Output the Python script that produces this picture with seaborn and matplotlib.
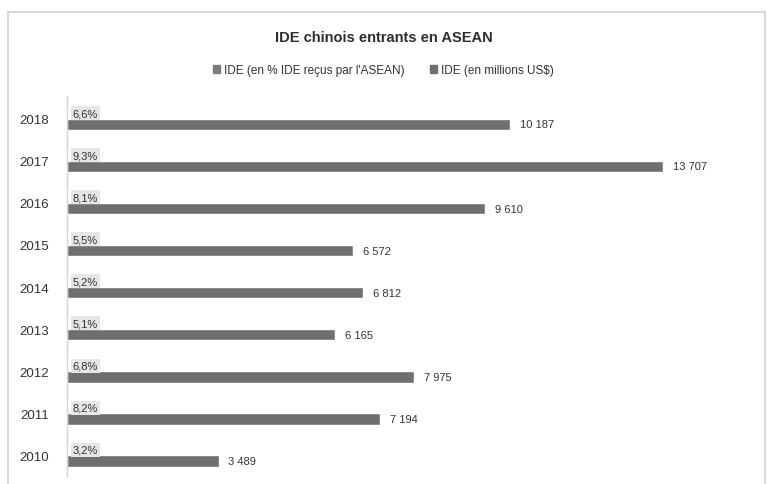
import matplotlib
matplotlib.use("Agg")
import matplotlib.pyplot as plt
import matplotlib.patches as mpatches
import seaborn as sns
import pandas as pd

years = ["2018", "2017", "2016", "2015", "2014", "2013", "2012", "2011", "2010"]
ide_pct = [6.6, 9.3, 8.1, 5.5, 5.2, 5.1, 6.8, 8.2, 3.2]
ide_musd = [10187, 13707, 9610, 6572, 6812, 6165, 7975, 7194, 3489]
series_names = ["IDE (en % IDE reçus par l'ASEAN)", "IDE (en millions US$)"]
title = "IDE chinois entrants en ASEAN"

df = pd.DataFrame({
    "year": years * 2,
    "value": ide_pct + ide_musd,
    "series": [series_names[0]] * len(years) + [series_names[1]] * len(years),
})

sns.set_theme(style="white")
plt.rcParams["font.family"] = ["Liberation Sans", "DejaVu Sans"]

fig = plt.figure(figsize=(7.67, 4.85), dpi=100)
ax = fig.add_axes([67 / 767, 1 - 477 / 485, 696 / 767, 380 / 485])

sns.barplot(data=df, y="year", x="value", hue="series", order=years,
            hue_order=series_names, orient="h", width=0.54,
            palette=["#7c7c7c", "#6f6f6f"], ax=ax, legend=False,
            saturation=1)

ax.set_xlim(0, 16000)
ax.set_ylim(8.49, -0.54)
ax.set_xlabel("")
ax.set_ylabel("")
ax.set_xticks([])
for s in ["top", "right", "bottom"]:
    ax.spines[s].set_visible(False)
ax.spines["left"].set_color("#d4d4d4")
ax.spines["left"].set_linewidth(1.0)
ax.tick_params(axis="y", length=0, pad=13, labelsize=9.5, labelcolor="#333333")

pct_c, musd_c = ax.containers[0], ax.containers[1]
ax.bar_label(pct_c, labels=[f"{v:.1f}".replace(".", ",") + "%" for v in ide_pct],
             padding=4, fontsize=8, color="#333333",
             bbox=dict(boxstyle="square,pad=0.18", facecolor="#e6e6e6", edgecolor="none"))
ax.bar_label(musd_c, labels=[f"{v:,}".replace(",", " ") for v in ide_musd],
             padding=7, fontsize=8, color="#333333")

fig.text(0.5, 1 - 38 / 485, title, ha="center", va="center",
         fontsize=10.5, fontweight="bold", color="#2e2e2e")

handles = [mpatches.Patch(color="#7c7c7c"), mpatches.Patch(color="#6f6f6f")]
fig.legend(handles, series_names, loc="center", bbox_to_anchor=(0.5, 1 - 71 / 485),
           ncol=2, frameon=False, fontsize=8.5, handlelength=0.6, handleheight=0.6,
           handletextpad=0.3, columnspacing=2.2, labelcolor="#333333")

fig.patches.append(mpatches.Rectangle((8 / 767, -0.1), 757 / 767, 1.1 - 13 / 485,
                                      transform=fig.transFigure, fill=False,
                                      edgecolor="#d8d8d8", linewidth=1.5))

fig.savefig("out.png", dpi=100)
